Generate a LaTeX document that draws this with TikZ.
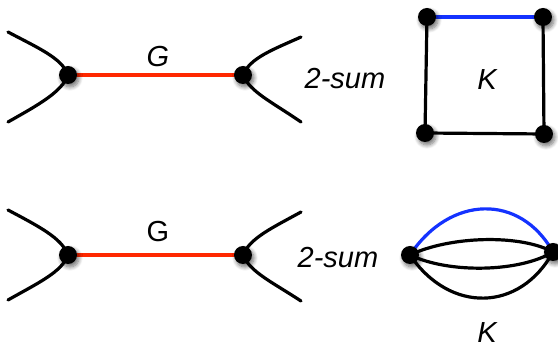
\documentclass[tikz,border=0pt]{standalone}
\usepackage{fontspec}
\setmainfont{Liberation Sans}
\usetikzlibrary{shadows.blur}
\definecolor{edgered}{RGB}{255,40,0}
\definecolor{edgeblue}{RGB}{20,50,255}
\tikzset{
  vtx/.style={circle,fill=black,inner sep=0pt,minimum size=18pt,
    blur shadow={shadow xshift=2pt,shadow yshift=-3pt,shadow blur steps=8,shadow opacity=55,shadow blur radius=4pt}},
  edge/.style={line width=3.2pt,line cap=round},
  lbl/.style={font=\fontsize{29}{31}\selectfont,inner sep=0pt}
}
\begin{document}
\begin{tikzpicture}[x=1pt,y=-1pt]
\useasboundingbox (0,0) rectangle (558,347);
\clip (0,0) rectangle (558,347);

% ---------- top row: G with a red edge ----------
\coordinate (a1) at (8,32);
\coordinate (a2) at (8,122);
\coordinate (b1) at (301,37);
\coordinate (b2) at (301,122);
\draw[edge] (a1) .. controls (38,48) and (62,58) .. (68,75);
\draw[edge] (a2) .. controls (38,105) and (62,92) .. (68,75);
\draw[edge] (243,75) .. controls (250,58) and (272,50) .. (b1);
\draw[edge] (243,75) .. controls (250,92) and (272,102) .. (b2);
\draw[edge,edgered] (68,75) -- (243,75);
\node[vtx] (u1) at (68,75) {};
\node[vtx] (v1) at (243,75) {};
\node[lbl] (g1) at (158,57) {\itshape G};
\node[lbl] (s1) at (345,79) {\itshape 2-sum};

% ---------- top row: K as a 4-cycle ----------
\draw[edge] (427,17) -- (425,133) -- (544,134) -- (543,17);
\draw[edge,edgeblue] (427,17) -- (543,17);
\node[vtx] (k1) at (427,17) {};
\node[vtx] (k2) at (543,17) {};
\node[vtx] (k3) at (425,133) {};
\node[vtx] (k4) at (544,134) {};
\node[lbl] (kk1) at (487,80) {\itshape K};

% ---------- bottom row: G with a red edge ----------
\coordinate (c1) at (8,210);
\coordinate (c2) at (8,300);
\coordinate (d1) at (301,212);
\coordinate (d2) at (301,301);
\draw[edge] (c1) .. controls (38,226) and (62,238) .. (68,255);
\draw[edge] (c2) .. controls (38,283) and (62,272) .. (68,255);
\draw[edge] (243,255) .. controls (250,238) and (272,228) .. (d1);
\draw[edge] (243,255) .. controls (250,272) and (272,282) .. (d2);
\draw[edge,edgered] (68,255) -- (243,255);
\node[vtx] (u2) at (68,255) {};
\node[vtx] (v2) at (243,255) {};
\node[lbl] (g2) at (158,232) {G};
\node[lbl] (s2) at (338,258) {\itshape 2-sum};

% ---------- bottom row: K as four parallel edges ----------
\coordinate (p) at (410,255);
\coordinate (q) at (553,252);
\draw[edge,edgeblue] (p) .. controls (450,195) and (520,193) .. (q);
\draw[edge] (p) .. controls (450,236) and (520,234) .. (q);
\draw[edge] (p) .. controls (450,274) and (520,272) .. (q);
\draw[edge] (p) .. controls (450,314) and (520,312) .. (q);
\node[vtx] (m1) at (p) {};
\node[vtx] (m2) at (q) {};
\node[lbl] (kk2) at (487,333) {\itshape K};
\end{tikzpicture}
\end{document}
